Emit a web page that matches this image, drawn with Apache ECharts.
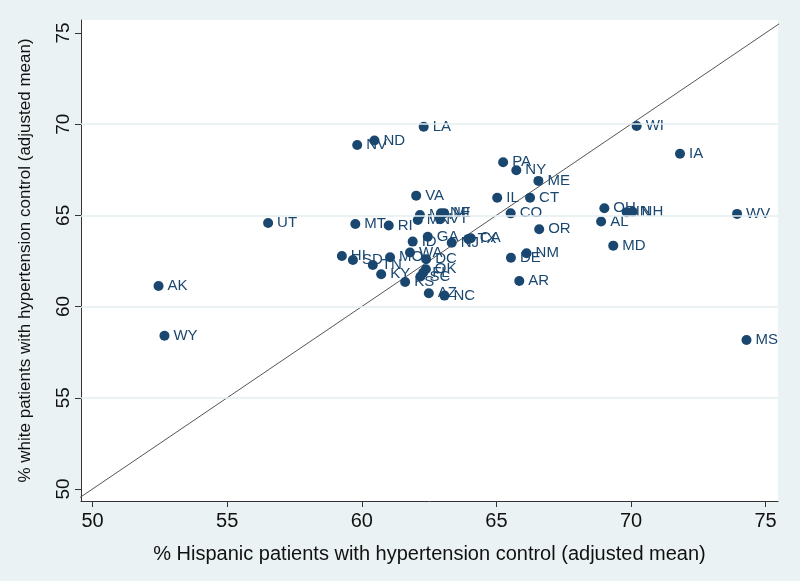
<!DOCTYPE html>
<html>
<head>
<meta charset="utf-8">
<script src="https://cdn.jsdelivr.net/npm/echarts@6/dist/echarts.min.js"></script>
<style>html,body{margin:0;padding:0;background:#eaf2f3;}#c{width:800px;height:581px;}</style>
</head>
<body>
<div id="c"></div>
<script>
const states = ["AK","AL","AR","AZ","CA","CO","CT","DC","DE","FL","GA","HI","IA","ID","IL","IN","KS","KY","LA","MA","MD","ME","MI","MN","MO","MS","MT","NC","ND","NE","NH","NJ","NM","NV","NY","OH","OK","OR","PA","RI","SC","SD","TN","TX","UT","VA","VT","WA","WI","WV","WY"];
const hispanic = [52.45,68.89,65.85,62.49,64.05,65.53,66.25,62.39,65.54,62.28,62.45,59.26,71.82,61.89,65.03,69.84,61.61,60.72,62.30,62.16,69.34,66.56,63.06,62.08,61.05,74.29,59.76,63.07,60.47,62.94,70.06,63.34,66.12,59.83,65.74,69.01,62.38,66.59,65.25,61.00,62.18,59.67,60.41,63.96,56.52,62.02,62.91,61.79,70.21,73.94,52.67];
const white = [61.13,64.66,61.40,60.73,63.74,65.11,65.97,62.59,62.68,61.85,63.83,62.77,68.38,63.56,65.97,65.17,61.35,61.77,69.86,65.02,63.34,66.89,65.12,64.75,62.70,58.17,64.53,60.60,69.10,65.12,65.20,63.50,62.92,68.86,67.47,65.39,62.05,64.24,67.91,64.44,61.65,62.55,62.28,63.71,64.58,66.08,64.79,62.96,69.90,65.08,58.40];
const tickValues = [50,55,60,65,70,75];
const gridValues = [55,60,65,70];
const diagonal = [[49.3,49.3],[75.5,75.5]];

const points = states.map((s,i)=>[hispanic[i], white[i], s]);
const chart = echarts.init(document.getElementById('c'), null, {renderer:'canvas'});
const navy = '#1a476f';
const fontFam = '"Liberation Sans", Arial, sans-serif';
chart.setOption({
  backgroundColor: '#eaf2f3',
  animation: false,
  grid: {left: 81, right: 22, top: 20, bottom: 80, show: true, backgroundColor: '#ffffff', borderWidth: 0},
  xAxis: {
    type: 'value', min: 49.57, max: 75.46,
    name: '% Hispanic patients with hypertension control (adjusted mean)',
    nameLocation: 'middle', nameGap: 43,
    nameTextStyle: {fontFamily: fontFam, fontSize: 20, color: '#111'},
    axisLine: {show: true, onZero: false, lineStyle: {color: '#333', width: 1}},
    axisTick: {show: true, length: 6, customValues: tickValues, lineStyle: {color: '#333'}},
    axisLabel: {customValues: tickValues, margin: 10, fontFamily: fontFam, fontSize: 20, color: '#111'},
    splitLine: {show: false}
  },
  yAxis: {
    type: 'value', min: 49.34, max: 75.71,
    name: '% white patients with hypertension control (adjusted mean)',
    nameLocation: 'middle', nameGap: 47, nameRotate: 90,
    nameTextStyle: {fontFamily: fontFam, fontSize: 17, color: '#111'},
    axisLine: {show: true, onZero: false, lineStyle: {color: '#333', width: 1}},
    axisTick: {show: true, length: 6, customValues: tickValues, lineStyle: {color: '#333'}},
    axisLabel: {customValues: tickValues, rotate: 90, margin: 8, fontFamily: fontFam, fontSize: 19, color: '#111'},
    splitLine: {show: false}
  },
  series: [
    {
      type: 'line', data: [], symbol: 'none', silent: true,
      markLine: {
        silent: true, symbol: 'none', label: {show: false}, animation: false,
        lineStyle: {color: '#e3eef0', width: 1.5, type: 'solid'},
        data: gridValues.map(v => ({yAxis: v}))
      },
      z: 0
    },
    {
      type: 'line', data: diagonal, symbol: 'none', silent: true, clip: true,
      lineStyle: {color: '#555', width: 1},
      z: 1
    },
    {
      type: 'scatter', data: points, symbol: 'circle', symbolSize: 10,
      itemStyle: {color: navy, opacity: 1},
      label: {show: true, position: 'right', distance: 4, formatter: p => p.data[2],
        fontFamily: fontFam, fontSize: 15, color: navy},
      z: 3
    }
  ]
});
</script>
</body>
</html>
